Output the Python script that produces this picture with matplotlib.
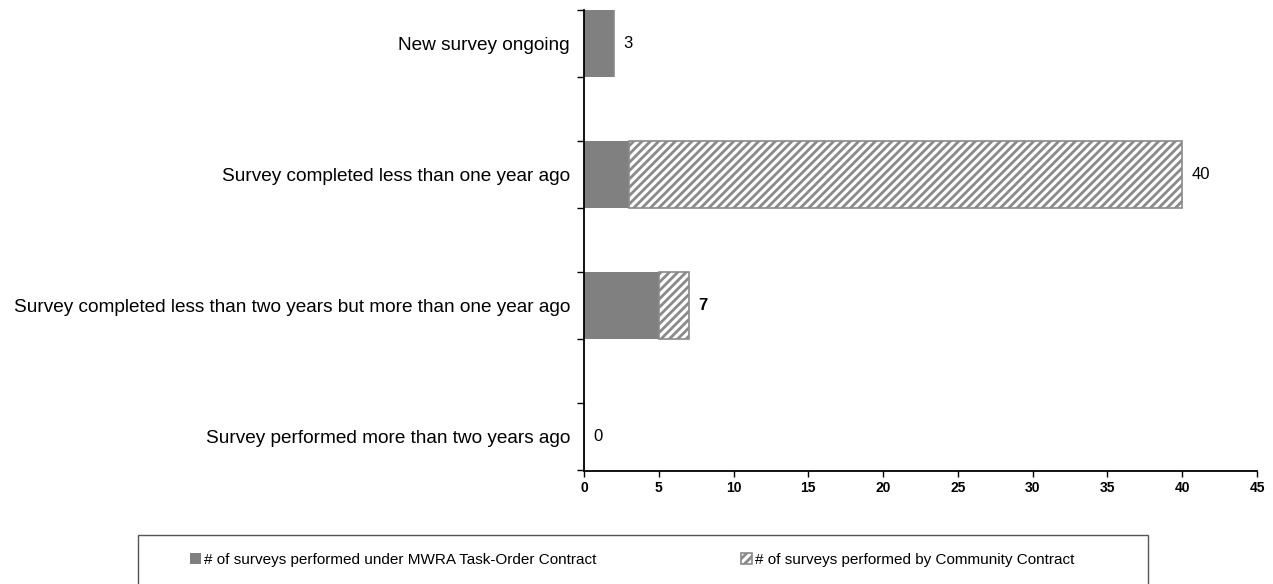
import matplotlib
matplotlib.use('Agg')
import matplotlib.pyplot as plt
from matplotlib.patches import Rectangle
import numpy as np

plt.rcParams['font.family'] = ['Liberation Sans', 'DejaVu Sans']
plt.rcParams['hatch.color'] = '#7f7f7f'
plt.rcParams['hatch.linewidth'] = 2.0

# bottom to top
categories = ['Survey performed more than two years ago',
              'Survey completed less than two years but more than one year ago',
              'Survey completed less than one year ago',
              'New survey ongoing']
mwra = [0, 5, 3, 2]
community = [0, 2, 37, 0]
totals = ['0', '7', '40', '3']

series_names = ['# of surveys performed under MWRA Task-Order Contract',
                '# of surveys performed by Community Contract']

fig = plt.figure(figsize=(12.73, 5.84), dpi=100)
ax = fig.add_axes([584/1273, 1-471/584, (1257-584)/1273, 461/584])

ind = np.arange(len(categories))
h = 0.51
b1 = ax.barh(ind, mwra, h, color='#808080', edgecolor='none')
b2 = ax.barh(ind, community, h, left=mwra, color='white', edgecolor='#8a8a8a',
             hatch='////', linewidth=1.2)

ends = np.array(mwra) + np.array(community)
for i in ind:
    ax.annotate(totals[i], (ends[i], ind[i]), xytext=(7, 0), textcoords='offset points',
                va='center', ha='left', fontsize=12,
                fontweight='bold' if totals[i] == '7' else 'normal')

ax.set_xlim(0, 45)
ax.set_ylim(-0.26, 3.255)
ax.set_xticks(np.arange(0, 46, 5))
ax.tick_params(axis='x', labelsize=10, length=4, width=1)
for t in ax.get_xticklabels():
    t.set_fontweight('bold')
ax.set_yticks(ind)
ax.set_yticklabels(categories, fontsize=13.7)
ax.tick_params(axis='y', length=0, pad=10)
# small ticks on the bar edges
ax.set_yticks(np.concatenate([ind - h/2, ind + h/2]), minor=True)
ax.tick_params(axis='y', which='minor', length=5, width=1)
for s in ['top', 'right']:
    ax.spines[s].set_visible(False)
ax.spines['left'].set_linewidth(1.3)
ax.spines['bottom'].set_linewidth(1.3)

# legend box
fig.patches.append(Rectangle((138/1273, -0.1), 1010/1273, 0.1 + (584-535)/584,
                             transform=fig.transFigure, fill=False,
                             edgecolor='#555555', linewidth=1))
fig.legend((b1[0], b2[0]), series_names, loc='center', ncol=2,
           bbox_to_anchor=(632/1273, 1-560/584), frameon=False, fontsize=11,
           handlelength=0.7, handleheight=0.7, handletextpad=0.2, columnspacing=9.5)

fig.savefig('out.png', dpi=100)
